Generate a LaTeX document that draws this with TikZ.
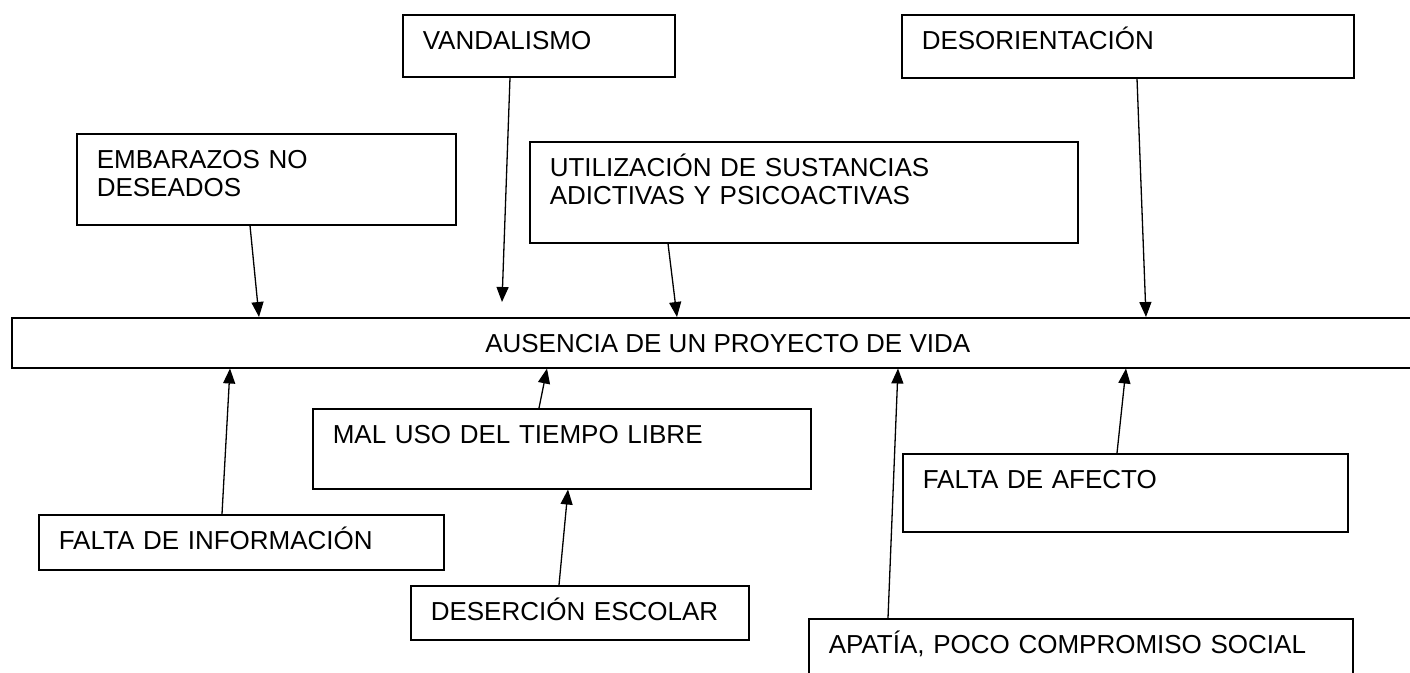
\documentclass[tikz,border=0pt]{standalone}
\usepackage{fontspec}
\setmainfont{Liberation Sans}
\usetikzlibrary{arrows.meta}

\begin{document}
\begin{tikzpicture}[x=1pt,y=-1pt,>={Triangle[length=15pt,width=12pt]},
    every node/.style={font=\fontsize{26}{28}\selectfont},
    causa/.style n args={2}{draw,line width=1.5pt,anchor=north west,inner xsep=20pt,inner ysep=0pt,
      text width=#1,align=left,text height=35pt,text depth=#2},
    flecha/.style={->,line width=1.3pt}]
      \useasboundingbox (0,0) rectangle (1410,672);
      \clip (0,0) rectangle (1410,672);
      \node[draw,line width=1.5pt,anchor=north west,inner sep=0pt,minimum width=1432pt,
        text height=35pt,text depth=15pt] (ausencia) at (11,317) {AUSENCIA DE UN PROYECTO DE VIDA};
      \node[causa={232pt}{27pt}] (vandalismo) at (402,14) {VANDALISMO};
      \node[causa={412pt}{28pt}] (desorientacion) at (901,14) {DESORIENTACIÓN};
      \node[causa={339pt}{56pt}] (embarazos) at (76,133) {EMBARAZOS NO\\DESEADOS};
      \node[causa={508pt}{66pt}] (sustancias) at (529,141) {UTILIZACIÓN DE SUSTANCIAS\\ADICTIVAS Y PSICOACTIVAS};
      \node[causa={458pt}{45pt}] (tiempo) at (312,408) {MAL USO DEL TIEMPO LIBRE};
      \node[causa={365pt}{20pt}] (informacion) at (38,514) {FALTA DE INFORMACIÓN};
      \node[causa={298pt}{19pt}] (desercion) at (410,585) {DESERCIÓN ESCOLAR};
      \node[causa={405pt}{43pt}] (afecto) at (902,453) {FALTA DE AFECTO};
      \node[causa={504pt}{45pt}] (apatia) at (808,618) {APATÍA, POCO COMPROMISO SOCIAL};
      \draw[flecha] ([xshift=174]embarazos.south west) -- ([xshift=248]ausencia.north west);
      \draw[flecha] ([xshift=108]vandalismo.south west) -- ([xshift=491,yshift=15]ausencia.north west);
      \draw[flecha] ([xshift=139]sustancias.south west) -- ([xshift=666]ausencia.north west);
      \draw[flecha] ([xshift=236]desorientacion.south west) -- ([xshift=1135]ausencia.north west);
      \draw[flecha] ([xshift=184]informacion.north west) -- ([xshift=219]ausencia.south west);
      \draw[flecha] ([xshift=227]tiempo.north west) -- ([xshift=536]ausencia.south west);
      \draw[flecha] ([xshift=149]desercion.north west) -- ([xshift=256]tiempo.south west);
      \draw[flecha] ([xshift=80]apatia.north west) -- ([xshift=887]ausencia.south west);
      \draw[flecha] ([xshift=215]afecto.north west) -- ([xshift=1115]ausencia.south west);
    \end{tikzpicture}
\end{document}
